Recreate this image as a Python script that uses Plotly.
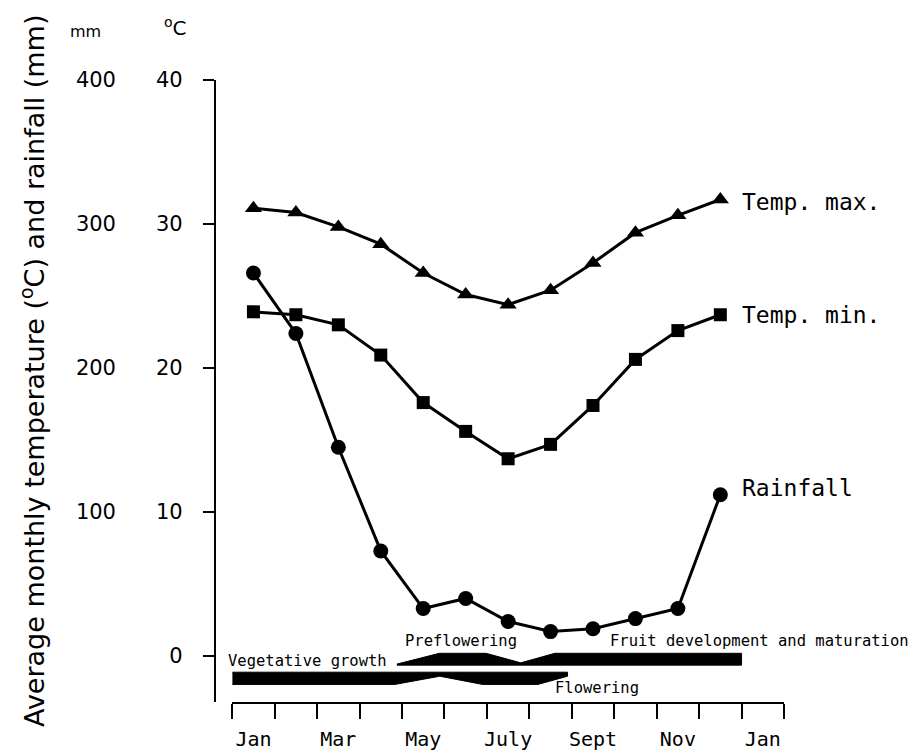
import numpy as np
import plotly.graph_objects as go

# ---------------- data ----------------
months = ["Jan", "Feb", "Mar", "Apr", "May", "Jun", "Jul", "Aug", "Sep", "Oct", "Nov", "Dec"]
temp_max = [31.1, 30.8, 29.8, 28.6, 26.6, 25.1, 24.4, 25.4, 27.3, 29.4, 30.6, 31.7]   # degC
temp_min = [23.9, 23.7, 23.0, 20.9, 17.6, 15.6, 13.7, 14.7, 17.4, 20.6, 22.6, 23.7]   # degC
rainfall = [266, 224, 145, 73, 33, 40, 24, 17, 19, 26, 33, 112]                      # mm

tick_labels = ["Jan", "Mar", "May", "July", "Sept", "Nov", "Jan"]
temp_ticks = [0, 10, 20, 30, 40]
rain_ticks = [100, 200, 300, 400]

# phenology phases (time in months from 1 Jan, band edges in degC units)
upper_band_t = [3.88, 4.88, 5.98, 6.80, 7.60, 12.0]
upper_band_top = [-0.56, 0.19, 0.19, -0.47, 0.19, 0.19]
upper_band_bottom = [-0.63, -0.63, -0.63, -0.63, -0.63, -0.63]
lower_band_t = [0.0, 3.83, 4.89, 5.90, 7.20, 7.90]
lower_band_top = [-1.12, -1.12, -1.12, -1.12, -1.12, -1.12]
lower_band_bottom = [-1.97, -1.97, -1.40, -1.97, -1.97, -1.40]

phase_labels = ["Vegetative growth", "Preflowering", "Fruit development and maturation", "Flowering"]
phase_label_t = [0.0, 4.03, 8.85, 7.55]
phase_label_y = [-0.35, 1.04, 1.04, -2.22]
phase_label_shift = [-6, 0, 0, 0]

# ---------------- figure ----------------
x = np.arange(len(months)) + 0.5
YMIN, YMAX = -3.19, 40.0

MONO = "DejaVu Sans Mono"
SANS = "DejaVu Sans"

OFF = 8                      # page body margin
FW, FH = 924 - OFF, 752 - OFF

fig = go.Figure()

def band(t, top, bottom):
    xs = list(t) + list(t)[::-1]
    ys = list(top) + list(bottom)[::-1]
    return go.Scatter(x=xs, y=ys, fill="toself", fillcolor="black", mode="lines",
                      line=dict(color="black", width=1), hoverinfo="skip", showlegend=False)

fig.add_trace(band(upper_band_t, upper_band_top, upper_band_bottom))
fig.add_trace(band(lower_band_t, lower_band_top, lower_band_bottom))

fig.add_trace(go.Scatter(x=x, y=temp_max, mode="lines+markers", name="Temp. max.",
                         line=dict(color="black", width=3),
                         marker=dict(symbol="triangle-up", size=15, color="black")))
fig.add_trace(go.Scatter(x=x, y=temp_min, mode="lines+markers", name="Temp. min.",
                         line=dict(color="black", width=3),
                         marker=dict(symbol="square", size=13, color="black")))
fig.add_trace(go.Scatter(x=x, y=rainfall, mode="lines+markers", name="Rainfall", yaxis="y2",
                         line=dict(color="black", width=3),
                         marker=dict(symbol="circle", size=15, color="black")))

# plot area in page pixels
PX_L, PX_R, PX_T, PX_B = 60, 784.3, 80, 702
L = PX_L - OFF
T = PX_T - OFF
R = FW - (PX_R - OFF)
B = FH - (PX_B - OFF)
W = PX_R - PX_L
H = PX_B - PX_T
x0_frac = (232.3 - PX_L) / W

def px(xp):
    return (xp - PX_L) / W

def py(yp):
    return (PX_B - yp) / H

fig.update_layout(
    width=FW, height=FH,
    margin=dict(l=L, r=R, t=T, b=B, autoexpand=False),
    paper_bgcolor="white", plot_bgcolor="white",
    showlegend=False,
    font=dict(family=MONO, color="black"),
    xaxis=dict(
        domain=[x0_frac, 1], range=[0, 13], anchor="y", automargin=False,
        showline=True, linecolor="black", linewidth=2, showgrid=False, zeroline=False,
        tickmode="array", tickvals=[0.5, 2.5, 4.5, 6.5, 8.5, 10.5, 12.5], ticktext=tick_labels,
        ticks="outside", ticklen=15, tickcolor="rgba(0,0,0,0)",
        ticklabelstandoff=3,
        tickfont=dict(family=MONO, size=20, color="black"),
        minor=dict(tickmode="linear", tick0=0, dtick=1, ticks="outside", ticklen=15,
                   tickwidth=2, tickcolor="black", showgrid=False),
    ),
    yaxis=dict(
        range=[YMIN, YMAX], anchor="free", position=px(215), automargin=False,
        showline=True, linecolor="black", linewidth=2, showgrid=False, zeroline=False,
        tickmode="array", tickvals=temp_ticks, ticktext=[str(v) for v in temp_ticks],
        ticks="outside", ticklen=11, tickwidth=2, tickcolor="black",
        ticklabelstandoff=16,
        tickfont=dict(family=SANS, size=21, color="black"),
    ),
    yaxis2=dict(
        range=[YMIN * 10, YMAX * 10], overlaying="y", anchor="free", position=px(116),
        side="left", showline=False, showgrid=False, zeroline=False, automargin=False,
        tickmode="array", tickvals=rain_ticks, ticktext=[str(v) for v in rain_ticks],
        ticks="",
        tickfont=dict(family=SANS, size=21, color="black"),
    ),
)

# series labels next to the last point
fig.add_annotation(x=x[-1], y=temp_max[-1], text="Temp. max.", showarrow=False,
                   xanchor="left", yanchor="middle", xshift=20, yshift=-2,
                   font=dict(family=MONO, size=23, color="black"))
fig.add_annotation(x=x[-1], y=temp_min[-1], text="Temp. min.", showarrow=False,
                   xanchor="left", yanchor="middle", xshift=20, yshift=0,
                   font=dict(family=MONO, size=23, color="black"))
fig.add_annotation(x=x[-1], y=rainfall[-1], yref="y2", text="Rainfall", showarrow=False,
                   xanchor="left", yanchor="middle", xshift=20, yshift=7,
                   font=dict(family=MONO, size=23, color="black"))

# phase labels
for lab, t, yy, sh in zip(phase_labels, phase_label_t, phase_label_y, phase_label_shift):
    fig.add_annotation(x=t, y=yy, text=lab, showarrow=False, xanchor="left", yanchor="middle",
                       xshift=sh, font=dict(family=MONO, size=15.5, color="black"))

# axis headers and title
fig.add_annotation(xref="paper", yref="paper", x=px(85.5), y=py(31),
                   text="mm", showarrow=False, xanchor="center", yanchor="middle",
                   font=dict(family=SANS, size=16, color="black"))
fig.add_annotation(xref="paper", yref="paper", x=px(176), y=py(27),
                   text="<sup>o</sup>C", showarrow=False, xanchor="center", yanchor="middle",
                   font=dict(family=SANS, size=20, color="black"))
fig.add_annotation(xref="paper", yref="paper", x=px(32), y=py(371),
                   text="Average monthly temperature (<sup>o</sup>C) and rainfall (mm)",
                   textangle=-90, showarrow=False, xanchor="center", yanchor="middle",
                   font=dict(family=SANS, size=27, color="black"))

fig.write_html("out.html")
